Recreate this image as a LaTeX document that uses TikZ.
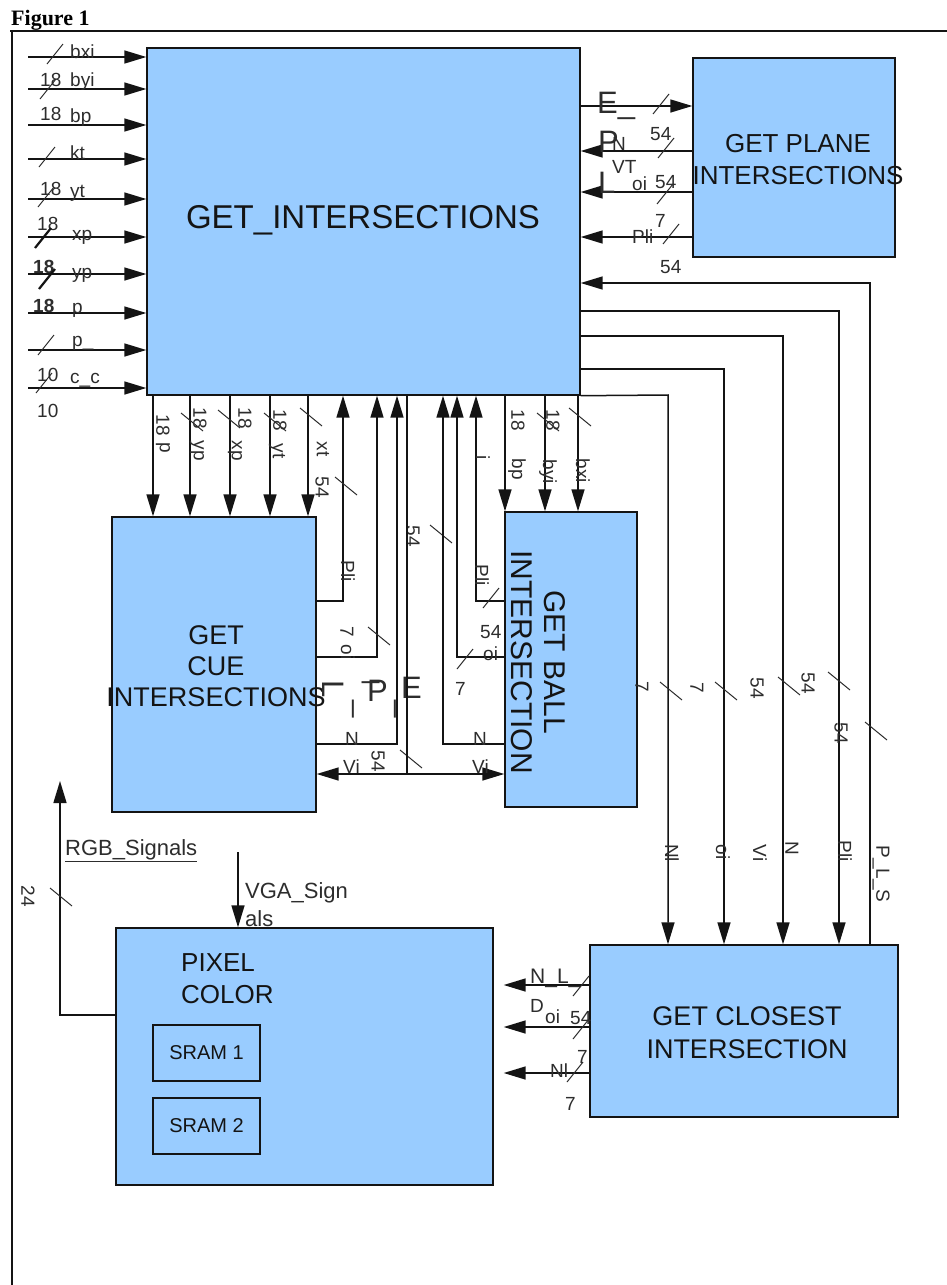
\documentclass[tikz,border=0pt]{standalone}
\usepackage{fontspec}
\setmainfont{Liberation Sans}
\newfontfamily\figfont{Liberation Serif}
\usetikzlibrary{arrows.meta,positioning}
\definecolor{BoxBlue}{RGB}{153,204,255}
\definecolor{Ink}{RGB}{20,20,20}
\definecolor{LabelInk}{RGB}{45,45,45}
\tikzset{
  blockbox/.style={draw=Ink,line width=1.4pt,fill=BoxBlue,inner sep=0pt},
  sramcell/.style={draw=Ink,line width=1.3pt,fill=BoxBlue,inner sep=0pt,minimum width=107pt,minimum height=56pt,font=\fontsize{20}{22}\selectfont,text=Ink},
  boxtext/.style={align=center,text=Ink,inner sep=0pt},
  flow/.style={-{Triangle[length=22pt,width=13pt]},line width=1.5pt,draw=Ink},
  wire/.style={line width=1.5pt,draw=Ink},
  twoway/.style={{Triangle[length=22pt,width=13pt]}-{Triangle[length=22pt,width=13pt]},line width=1.5pt,draw=Ink},
  sig/.style={font=\fontsize{19}{20}\selectfont,text=LabelInk,inner sep=0pt},
  sigrot/.style={sig,rotate=-90},
  bigsig/.style={font=\fontsize{31}{34}\selectfont,text=LabelInk,inner sep=0pt},
  buscut/.style={line width=1pt,draw=LabelInk},
  boldcut/.style={line width=2.2pt,draw=Ink}
}
% bus width marks: #2,#3 = centre of the mark
\newcommand{\cutH}[3][buscut]{\draw[#1] (#2-8,#3+10) -- (#2+8,#3-10);}
\newcommand{\cutV}[3][buscut]{\draw[#1] (#2-11,#3-9) -- (#2+11,#3+9);}

\begin{document}
\begin{tikzpicture}[x=1pt,y=-1pt]
\fill[white] (0,0) rectangle (947,1285);
\useasboundingbox (0,0) rectangle (947,1285);

% frame
\node[font=\figfont\bfseries\fontsize{22}{24}\selectfont,anchor=base west,inner sep=0pt] (figtitle) at (11,25) {\underline{Figure 1}};
\draw[line width=1.5pt,Ink] (10,31) -- (947,31);
\draw[line width=1.5pt,Ink] (12,31) -- (12,1285);

% blocks
\node[blockbox,minimum width=433pt,minimum height=347pt] (main) at (363.5,221.5) {};
\node[boxtext,font=\fontsize{33}{36}\selectfont] (main-txt) at (363,220) {GET\_INTERSECTIONS};
\node[blockbox,minimum width=202pt,minimum height=199pt] (plane) at (794,157.5) {};
\node[boxtext,font=\fontsize{26}{32}\selectfont] (plane-txt) at (798,160) {GET PLANE\\INTERSECTIONS};
\node[blockbox,minimum width=204pt,minimum height=295pt] (cue) at (214,664.5) {};
\node[boxtext,font=\fontsize{27}{31}\selectfont] (cue-txt) at (216,666) {GET\\CUE\\INTERSECTIONS};
\node[blockbox,minimum width=132pt,minimum height=295pt] (ball) at (571,659.5) {};
\node[boxtext,font=\fontsize{30}{33}\selectfont,rotate=-90] (ball-txt) at (538,662) {GET BALL\\INTERSECTION};
\node[blockbox,minimum width=308pt,minimum height=172pt] (closest) at (744,1031) {};
\node[boxtext,font=\fontsize{27}{33}\selectfont] (closest-txt) at (747,1033) {GET CLOSEST\\INTERSECTION};
\node[blockbox,minimum width=377pt,minimum height=257pt] (pixel) at (304.5,1056.5) {};
\node[boxtext,font=\fontsize{26}{32}\selectfont,align=left,anchor=north west] (pixel-txt) at (181,953) {PIXEL\\COLOR};
\node[sramcell] (sram1) at (206.5,1053) {SRAM 1};
\node[sramcell] (sram2) at (206.5,1126) {SRAM 2};

% inputs of GET_INTERSECTIONS
\foreach \y/\n in {57/bxi,89/byi,125/bp,159/kt,199/yt,237/xp,274/yp,313/p,350/pp,388/cc} {
  \coordinate (in-\n) at (28,\y);
  \draw[flow] (in-\n) -- (in-\n -| main.west);
}
\foreach \x/\y/\t [count=\i] in {70/58/bxi,70/86/byi,70/122/bp,70/159/kt,70/197/yt,72/240/xp,72/278/yp,72/313/p,72/346/p\_,70/383/c\_c}
  \node[sig,anchor=base west] (inname\i) at (\x,\y) {\t};
\foreach \x/\y/\t [count=\i] in {40/86/18,40/120/18,40/195/18,37/230/18,37/381/10,37/417/10}
  \node[sig,anchor=base west] (inwidth\i) at (\x,\y) {\t};
\node[sig,anchor=base west,font=\bfseries\fontsize{19}{20}\selectfont] (inwidth7) at (33,273) {18};
\node[sig,anchor=base west,font=\bfseries\fontsize{19}{20}\selectfont] (inwidth8) at (33,312) {18};
\foreach \x/\y in {55/54,48/89,47/157,46/197,46/345,44/383} {\cutH{\x}{\y}}
\cutH[boldcut]{43}{238}
\cutH[boldcut]{47}{279}

% GET_INTERSECTIONS <-> GET PLANE INTERSECTIONS
\coordinate (epl-t) at (640,106);
\coordinate (pn-t) at (640,151);
\coordinate (vt-t) at (640,192);
\coordinate (pli-t) at (640,237);
\draw[flow] (main.east |- epl-t) -- (plane.west |- epl-t);
\draw[flow] (plane.west |- pn-t) -- (main.east |- pn-t);
\draw[flow] (plane.west |- vt-t) -- (main.east |- vt-t);
\draw[flow] (plane.west |- pli-t) -- (main.east |- pli-t);
\node[bigsig,anchor=base west] (epl-e) at (597,113) {E\_};
\node[bigsig,anchor=base west] (epl-p) at (598,152) {P};
\node[bigsig,anchor=base west] (epl-l) at (598,193) {L};
\foreach \x/\y/\t [count=\i] in {650/140/54,612/150/N,612/173/VT,632/190/oi,655/188/54,655/227/7,632/243/Pli,660/273/54}
  \node[sig,anchor=base west] (planelbl\i) at (\x,\y) {\t};
\foreach \x/\y in {661/104,666/148,665/194,671/234} {\cutH{\x}{\y}}

% GET CLOSEST INTERSECTION <-> GET_INTERSECTIONS
\coordinate (psl-c) at (870,283);
\coordinate (pli-r) at (839,311);
\coordinate (nvi-r) at (783,336);
\coordinate (oi-r) at (724,369);
\coordinate (nl-r) at (668,395);
\draw[flow] (closest.north -| psl-c) -- (psl-c) -- (psl-c -| main.east);
\draw[flow] (main.east |- pli-r) -- (pli-r) -- (pli-r |- closest.north);
\draw[flow] (main.east |- nvi-r) -- (nvi-r) -- (nvi-r |- closest.north);
\draw[flow] (main.east |- oi-r) -- (oi-r) -- (oi-r |- closest.north);
\draw[flow] (main.south east) -- (nl-r) -- (nl-r |- closest.north);
\foreach \x/\y/\t [count=\i] in {642/687/7,697/688/7,757/688/54,808/683/54,841/733/54,672/853/Nl,723/852/oi,760/853/Vi,792/848/N,845/851/Pli,881/874/P\_L\_S}
  \node[sigrot] (rightlbl\i) at (\x,\y) {\t};
\foreach \x/\y in {671/691,726/691,789/686,839/681,876/731} {\cutV{\x}{\y}}

% GET_INTERSECTIONS -> GET CUE INTERSECTIONS
\foreach \x/\n in {153/p,190/yp,230/xp,270/yt,308/xt} {
  \coordinate (cd-\n) at (\x,450);
  \draw[flow] (main.south -| cd-\n) -- (cue.north -| cd-\n);
}
\foreach \x/\y/\t [count=\i] in {163/425/18,163/448/p,200/418/18,197/451/yp,245/418/18,235/451/xp,280/420/18,277/451/yt,323/449/xt,322/487/54}
  \node[sigrot] (cuelbl\i) at (\x,\y) {\t};
\foreach \x/\y in {192/422,229/419,275/422,311/417} {\cutV{\x}{\y}}

% GET CUE INTERSECTIONS -> GET_INTERSECTIONS
\coordinate (pli-c) at (343,601);
\coordinate (oi-c) at (377,657);
\coordinate (nvi-c) at (397,744);
\draw[flow] (cue.east |- pli-c) -- (pli-c) -- (pli-c |- main.south);
\draw[flow] (cue.east |- oi-c) -- (oi-c) -- (oi-c |- main.south);
\draw[flow] (cue.east |- nvi-c) -- (nvi-c) -- (nvi-c |- main.south);
\foreach \x/\y/\t [count=\i] in {348/571/Pli,347/632/7,348/652/oi,413/536/54,378/761/54}
  \node[sigrot] (cueuplbl\i) at (\x,\y) {\t};
\foreach \x/\y in {346/486,379/636,441/534,411/759} {\cutV{\x}{\y}}
\node[bigsig,rotate=-90] (eplc-l) at (333,689) {L};
\node[bigsig,anchor=base west] (eplc-u) at (362,677) {\_};
\node[bigsig,anchor=base west] (eplc-p) at (367,701) {P};
\node[bigsig,anchor=base west] (eplc-e) at (401,698) {E};
\node[bigsig,rotate=-90,anchor=base west] (eplc-u1) at (358,700) {\_};
\node[bigsig,rotate=-90,anchor=base west] (eplc-u2) at (400,700) {\_};

% E_P_L to both cue and ball
\coordinate (epl-b) at (407,774);
\draw[wire] (main.south -| epl-b) -- (epl-b);
\draw[twoway] (cue.east |- epl-b) -- (ball.west |- epl-b);

% GET BALL INTERSECTION <-> GET_INTERSECTIONS
\coordinate (nvi-b) at (443,744);
\coordinate (oi-b) at (457,657);
\coordinate (pli-b) at (476,601);
\draw[flow] (ball.west |- nvi-b) -- (nvi-b) -- (nvi-b |- main.south);
\draw[flow] (ball.west |- oi-b) -- (oi-b) -- (oi-b |- main.south);
\draw[flow] (ball.west |- pli-b) -- (pli-b) -- (pli-b |- main.south);
\foreach \x/\n in {505/bp,545/byi,578/bxi} {
  \coordinate (bd-\n) at (\x,450);
  \draw[flow] (main.south -| bd-\n) -- (ball.north -| bd-\n);
}
\foreach \x/\y/\t [count=\i] in {518/420/18,517/469/bp,553/420/18,548/472/byi,583/471/bxi,483/458/i,482/575/Pli}
  \node[sigrot] (balllbl\i) at (\x,\y) {\t};
\foreach \x/\y in {548/422,580/417} {\cutV{\x}{\y}}
\foreach \x/\y/\t [count=\i] in {345/745/N,343/773/Vi,473/745/N,472/773/Vi,480/638/54,483/660/oi,455/695/7}
  \node[sig,anchor=base west] (midlbl\i) at (\x,\y) {\t};
\foreach \x/\y in {465/659,491/598} {\cutH{\x}{\y}}

% GET CLOSEST INTERSECTION -> PIXEL COLOR
\coordinate (nld-p) at (540,985);
\coordinate (doi-p) at (540,1027);
\coordinate (nl-p) at (540,1073);
\draw[flow,shorten >=10pt] (closest.west |- nld-p) -- (pixel.east |- nld-p);
\draw[flow,shorten >=10pt] (closest.west |- doi-p) -- (pixel.east |- doi-p);
\draw[flow,shorten >=10pt] (closest.west |- nl-p) -- (pixel.east |- nl-p);
\node[sig,anchor=base west,font=\fontsize{21}{22}\selectfont] (pixlbl0) at (530,983) {N\_L\_};
\foreach \x/\y/\t [count=\i] in {530/1012/D,545/1023/oi,570/1024/54,577/1063/7,550/1077/Nl,565/1110/7}
  \node[sig,anchor=base west] (pixlbl\i) at (\x,\y) {\t};
\foreach \x/\y in {581/986,581/1029,575/1072} {\cutH{\x}{\y}}

% PIXEL COLOR signals
\coordinate (rgb-c) at (60,1015);
\coordinate (rgb-end) at (60,781);
\draw[flow] (pixel.west |- rgb-c) -- (rgb-c) -- (rgb-end);
\node[sig,anchor=base west,font=\fontsize{22}{24}\selectfont] (rgb-lbl) at (65,855) {\underline{RGB\_Signals}};
\node[sigrot] (rgb-width) at (28,896) {24};
\cutV{61}{897}
\coordinate (vga-start) at (238,852);
\draw[flow] (vga-start) -- (vga-start |- pixel.north);
\node[sig,anchor=base west,font=\fontsize{22}{24}\selectfont] (vga-lbl1) at (245,898) {VGA\_Sign};
\node[sig,anchor=base west,font=\fontsize{22}{24}\selectfont] (vga-lbl2) at (245,926) {als};
\end{tikzpicture}
\end{document}
